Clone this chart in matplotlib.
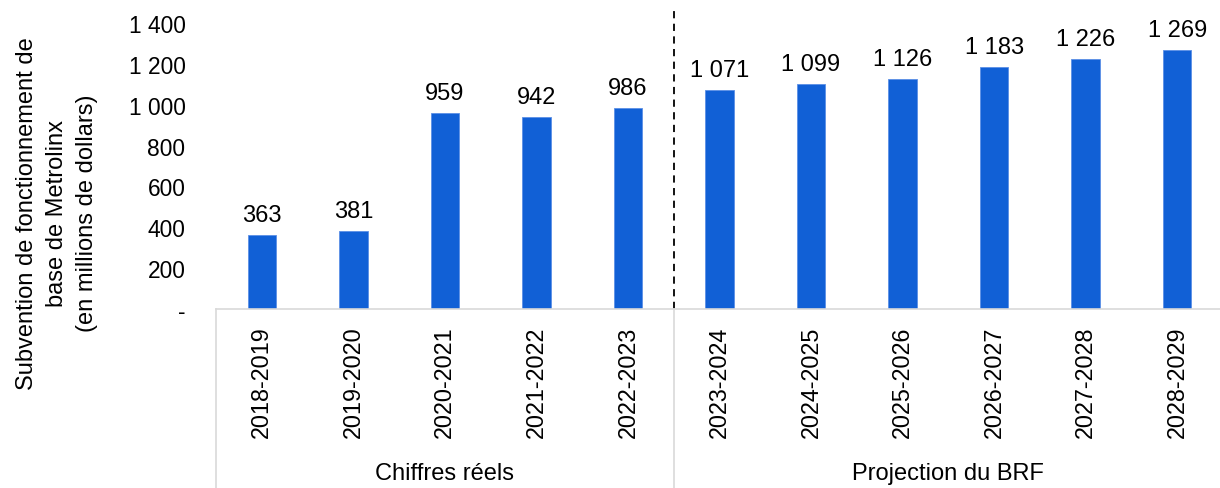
import numpy as np
import matplotlib.pyplot as plt

plt.rcParams['font.family'] = ['Liberation Sans', 'DejaVu Sans']

years = ['2018-2019', '2019-2020', '2020-2021', '2021-2022', '2022-2023',
         '2023-2024', '2024-2025', '2025-2026', '2026-2027', '2027-2028', '2028-2029']
subsidy = [363, 381, 959, 942, 986, 1071, 1099, 1126, 1183, 1226, 1269]
groups = ['Chiffres réels', 'Projection du BRF']
group_sizes = [5, 6]
yticks = [0, 200, 400, 600, 800, 1000, 1200, 1400]


def fmt(v):
    # French style thousands separator, zero shown as a dash
    if v == 0:
        return '-'
    return f'{v:,}'.replace(',', ' ')


fig = plt.figure(figsize=(12.2, 4.89), dpi=100)
ax = fig.add_axes([216 / 1220, 179 / 489, 1007 / 1220, 286 / 489])

x = np.arange(len(years))
bars = ax.bar(x, subsidy, width=0.31, color='#1160d6', edgecolor='#5b8fe6', linewidth=0.6)
for xi, v in zip(x, subsidy):
    ax.annotate(fmt(v), (xi, v), xytext=(0, 6.5), textcoords='offset points',
                ha='center', va='bottom', fontsize=17)

ax.set_xlim(-0.5, len(years) - 0.5)
ax.set_ylim(0, 1400)
ax.set_yticks(yticks)
ax.set_yticklabels([fmt(t) for t in yticks], fontsize=16.4)
ax.tick_params(axis='y', length=0, pad=22)
ax.set_xticks(x)
ax.set_xticklabels(years, rotation=90, fontsize=16.8, va='top')
ax.tick_params(axis='x', length=0, pad=12)

for s in ['top', 'right', 'left']:
    ax.spines[s].set_visible(False)
ax.spines['bottom'].set_color('#d9d9d9')
ax.spines['bottom'].set_linewidth(1.2)

fig.text(57 / 1220, 0.564,
         'Subvention de fonctionnement de\nbase de Metrolinx\n(en millions de dollars)',
         rotation=90, ha='center', va='center', multialignment='center',
         fontsize=17, linespacing=1.48)

# dashed split between actuals and projections
split = group_sizes[0] - 0.5
ax.plot([split, split], [0, 1468], ls=(0, (4, 3)), color='black', lw=1.3, clip_on=False)

# category group brackets under the tick labels
trans = ax.get_xaxis_transform()
start = -0.5
for name, n in zip(groups, group_sizes):
    ax.plot([start, start], [0, -0.63], color='#d9d9d9', lw=1.2,
            transform=trans, clip_on=False)
    ax.text(start + n / 2, -0.575, name, transform=trans, ha='center', va='center', fontsize=17)
    start += n

fig.savefig('out.png', dpi=100)
